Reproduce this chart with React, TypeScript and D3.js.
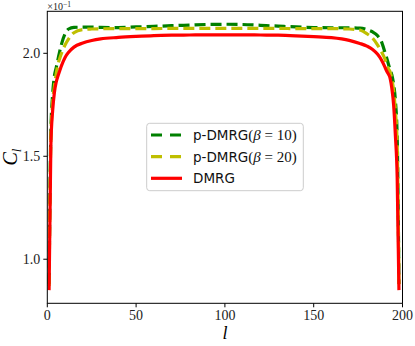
import React from 'react';
import * as d3 from 'd3';

// site index l (same sampling for every series)
const sites = [1, 2, 3, 4, 5, 6, 7, 8, 10, 12, 15, 20, 25, 30, 40, 50, 60, 70, 80, 90, 100,
  110, 120, 130, 140, 150, 160, 170, 176, 180, 183, 186, 188, 190, 191, 192, 193, 194, 195, 196, 197, 198];

const pdmrg10 = [0.088, 0.162, 0.180, 0.189, 0.193, 0.197, 0.201, 0.2045, 0.2095, 0.2118, 0.2126, 0.2127, 0.2127, 0.2126,
  0.2125, 0.2128, 0.2131, 0.2134, 0.2137, 0.2140, 0.2141, 0.2140, 0.2136, 0.2132, 0.2128, 0.2125, 0.2124, 0.2124,
  0.2122, 0.2115, 0.2105, 0.2085, 0.2060, 0.2008, 0.1980, 0.1950, 0.1920, 0.1895, 0.1850, 0.1770, 0.1600, 0.088];

const pdmrg20 = [0.087, 0.158, 0.176, 0.184, 0.190, 0.1945, 0.1975, 0.200, 0.204, 0.207, 0.210, 0.2115, 0.2118, 0.2119,
  0.2120, 0.2120, 0.2120, 0.2121, 0.2121, 0.2121, 0.2121, 0.2121, 0.2121, 0.2121, 0.2120, 0.2120, 0.2120, 0.2118,
  0.2113, 0.2095, 0.2075, 0.2040, 0.2010, 0.1975, 0.1950, 0.1925, 0.1910, 0.1875, 0.1820, 0.1720, 0.1560, 0.087];

const dmrg = [0.085, 0.155, 0.172, 0.181, 0.186, 0.189, 0.1915, 0.194, 0.198, 0.2005, 0.203, 0.205, 0.2062, 0.207,
  0.2077, 0.2082, 0.2086, 0.2088, 0.2089, 0.2090, 0.2090, 0.2090, 0.2089, 0.2088, 0.2085, 0.2081, 0.2076, 0.2063,
  0.2048, 0.2035, 0.2020, 0.1995, 0.1970, 0.1935, 0.1915, 0.1900, 0.1880, 0.1830, 0.1750, 0.1600, 0.1400, 0.085];

const xTicks = [0, 50, 100, 150, 200];
const yTicks = [0.10, 0.15, 0.20];

const series = [
  { label: '10', values: pdmrg10, color: '#008000', dash: '11 5' },
  { label: '20', values: pdmrg20, color: '#bfbf00', dash: '11 5' },
  { label: 'DMRG', values: dmrg, color: '#ff0000', dash: null },
];

const serif = '"Liberation Serif", "DejaVu Serif", serif';
const sans = '"DejaVu Sans", sans-serif';

export default function App() {
  const left = 47.3, right = 402.5, top = 11.3, bottom = 303.3;
  const x = d3.scaleLinear().domain([0, 200]).range([left, right]);
  const y = d3.scaleLinear().domain([0.0786, 0.2204]).range([bottom, top]);

  const line = (vals: number[]) =>
    d3.line<number>()
      .x((_, i) => x(sites[i]))
      .y(d => y(d))
      .curve(d3.curveMonotoneX)(vals) || '';

  const legendRows = [135, 156.7, 178.3];

  return (
    <svg width={415} height={346} style={{ position: 'absolute', left: 0, top: 0, background: '#fff' }}>
      <defs>
        <clipPath id="plot">
          <rect x={left} y={top} width={right - left} height={bottom - top} />
        </clipPath>
      </defs>
      <g clipPath="url(#plot)">
        {series.map(s => (
          <path key={s.label} d={line(s.values)} fill="none" stroke={s.color}
            strokeWidth={3.2} strokeDasharray={s.dash || undefined} strokeLinejoin="round" />
        ))}
      </g>
      <rect x={left} y={top} width={right - left} height={bottom - top} fill="none" stroke="#000" strokeWidth={1} />

      {xTicks.map(t => (
        <g key={t}>
          <line x1={x(t)} x2={x(t)} y1={bottom} y2={bottom + 4} stroke="#000" strokeWidth={1} />
          <text x={x(t)} y={bottom + 17} textAnchor="middle" fontFamily={serif} fontSize={14} fill="#222">{t}</text>
        </g>
      ))}
      {yTicks.map(t => (
        <g key={t}>
          <line x1={left - 4} x2={left} y1={y(t)} y2={y(t)} stroke="#000" strokeWidth={1} />
          <text x={left - 7} y={y(t) + 5} textAnchor="end" fontFamily={serif} fontSize={14} fill="#222">{(t * 10).toFixed(1)}</text>
        </g>
      ))}

      <text x={left} y={9.5} fontFamily={serif} fontSize={10} fill="#222">
        ×10<tspan dy={-3} fontSize={7.5}>−1</tspan>
      </text>

      <text x={x(100)} y={339} textAnchor="middle" fontFamily={serif} fontStyle="italic" fontSize={18}>l</text>
      <g transform="translate(17,157) rotate(-90)">
        <text textAnchor="middle" fontFamily={serif} fontStyle="italic" fontSize={20}>
          C<tspan dy={4} fontSize={13}>l</tspan>
        </text>
      </g>

      <rect x={146.7} y={123.3} width={156.6} height={67.4} rx={3} fill="#fff" fillOpacity={0.8} stroke="#cccccc" strokeWidth={1} />
      {series.map((s, i) => (
        <g key={s.label}>
          <line x1={151} x2={182} y1={legendRows[i]} y2={legendRows[i]} stroke={s.color}
            strokeWidth={3.2} strokeDasharray={s.dash ? '11 8' : undefined} />
          {s.dash ? (
            <text x={193} y={legendRows[i] + 5} fontSize={13.5} fill="#111">
              <tspan fontFamily={sans}>p-DMRG</tspan>
              <tspan fontFamily={serif} fontSize={15}>(</tspan>
              <tspan fontFamily={serif} fontStyle="italic" fontSize={15}>β</tspan>
              <tspan fontFamily={serif} fontSize={15}>{' = ' + s.label + ')'}</tspan>
            </text>
          ) : (
            <text x={193} y={legendRows[i] + 5} fontFamily={sans} fontSize={13.5} fill="#111">{s.label}</text>
          )}
        </g>
      ))}
    </svg>
  );
}
